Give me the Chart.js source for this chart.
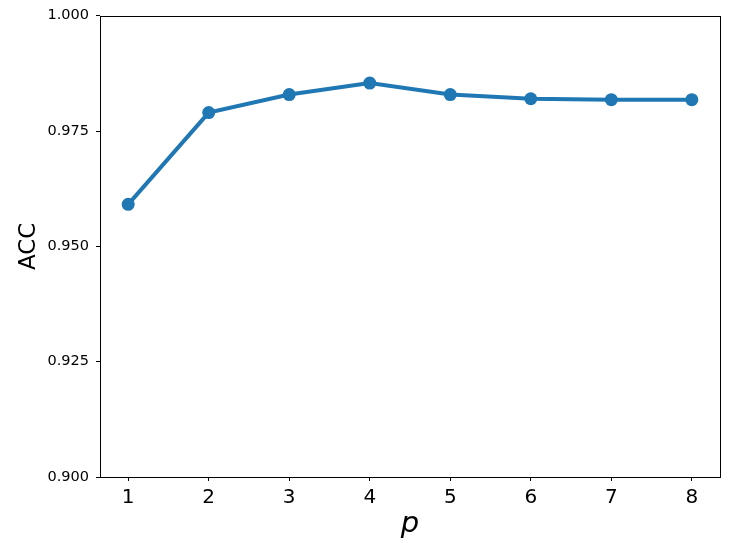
<!DOCTYPE html>
<html>
<head>
<meta charset="utf-8">
<script src="https://cdn.jsdelivr.net/npm/chart.js@4"></script>
<style>
  html, body { margin: 0; padding: 0; background: #fff; }
  #wrap { width: 750px; height: 543px; position: relative; }
</style>
</head>
<body>
<div id="wrap"><canvas id="c" width="750" height="543"></canvas></div>
<script>
const categories = [1, 2, 3, 4, 5, 6, 7, 8];
const accValues = [0.9591, 0.9790, 0.9829, 0.9854, 0.9829, 0.9820, 0.9818, 0.9818];
const yTicks = [0.900, 0.925, 0.950, 0.975, 1.000];

const frame = {
  id: 'frame',
  afterDatasetsDraw(chart) {
    const a = chart.chartArea, ctx = chart.ctx;
    ctx.save();
    ctx.strokeStyle = '#000';
    ctx.lineWidth = 1;
    ctx.strokeRect(Math.round(a.left) + 0.5, Math.round(a.top) + 0.5,
      Math.round(a.right - a.left), Math.round(a.bottom - a.top));
    ctx.restore();
  }
};

new Chart(document.getElementById('c'), {
  type: 'line',
  data: {
    datasets: [{
      data: categories.map((x, i) => ({ x: x, y: accValues[i] })),
      borderColor: '#1f77b4',
      backgroundColor: '#1f77b4',
      borderWidth: 4,
      pointRadius: 6.5,
      pointHoverRadius: 6.5,
      pointBorderWidth: 0,
      tension: 0,
      clip: false
    }]
  },
  options: {
    responsive: false,
    animation: false,
    events: [],
    layout: { padding: { left: 0, right: 30, top: 15, bottom: 0 } },
    plugins: { legend: { display: false }, tooltip: { enabled: false } },
    scales: {
      x: {
        type: 'linear',
        min: 0.65, max: 8.35,
        afterBuildTicks: (s) => { s.ticks = categories.map(v => ({ value: v })); },
        afterFit: (s) => { s.height = 66; },
        grid: { display: true, drawOnChartArea: false, tickLength: 4, color: '#000', tickColor: '#000' },
        border: { display: false },
        ticks: {
          color: '#000', padding: 5, maxRotation: 0, autoSkip: false,
          font: { family: 'DejaVu Sans', size: 20 },
          callback: (v) => String(v)
        },
        title: {
          display: true, text: 'p', color: '#000',
          font: { family: 'DejaVu Sans', size: 29, style: 'italic' },
          padding: { top: 0, bottom: 1 }
        }
      },
      y: {
        min: 0.9, max: 1.0,
        afterBuildTicks: (s) => { s.ticks = yTicks.map(v => ({ value: v })); },
        afterFit: (s) => { s.width = 100; },
        grid: { display: true, drawOnChartArea: false, tickLength: 4, color: '#000', tickColor: '#000' },
        border: { display: false },
        ticks: {
          color: '#000', padding: 7,
          font: { family: 'DejaVu Sans', size: 14.5 },
          callback: (v) => Number(v).toFixed(3)
        },
        title: {
          display: true, text: 'ACC', color: '#000',
          font: { family: 'DejaVu Sans', size: 23 },
          padding: { top: 15, bottom: 0 }
        }
      }
    }
  },
  plugins: [frame]
});
</script>
</body>
</html>
